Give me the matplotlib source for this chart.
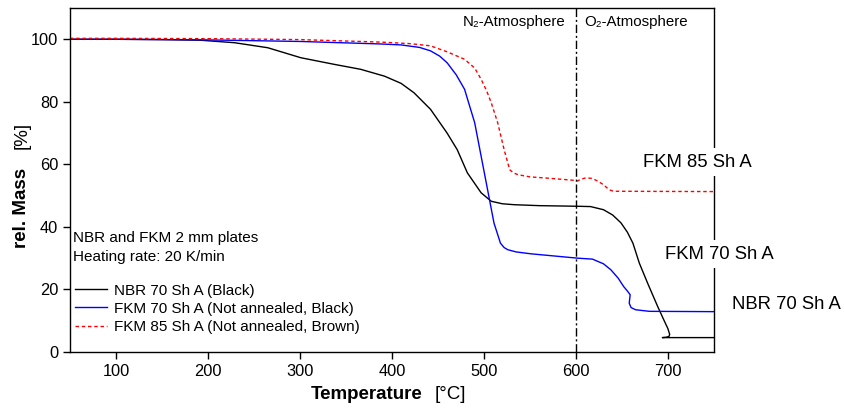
import matplotlib
matplotlib.use("Agg")
import matplotlib.pyplot as plt

plt.rcParams['font.family'] = ['Liberation Sans', 'DejaVu Sans']

# NBR 70 Sh A (Black)
nbr_T = [50, 100, 150, 192, 229, 265, 301, 337, 366, 392, 410, 424, 442, 460, 471, 482, 497, 508, 520, 533, 560,
         602, 616, 630, 640, 649, 656, 662, 669, 678, 689, 696, 700, 702, 701, 698, 694, 720, 750]
nbr_m = [100, 100, 99.9, 99.7, 98.9, 97.3, 94.1, 92.0, 90.4, 88.2, 85.9, 82.9, 77.6, 70.0, 64.7, 57.3, 50.9, 48.2, 47.4, 47.1, 46.8,
         46.6, 46.5, 45.5, 43.8, 41.3, 38.3, 34.8, 28.4, 22.0, 14.5, 10.0, 7.5, 5.6, 4.9, 4.7, 4.6, 4.6, 4.6]

# FKM 70 Sh A (Not annealed, Black)
fkm70_T = [50, 100, 200, 301, 388, 410, 430, 442, 452, 460, 470, 479, 490, 497, 504, 511, 518, 522, 526, 535, 551,
           602, 618, 630, 638, 646, 652, 656, 659, 658, 660, 665, 680, 750]
fkm70_m = [100, 100, 99.8, 99.3, 98.5, 98.2, 97.4, 96.3, 94.6, 92.5, 88.6, 84.0, 73.3, 62.6, 51.9, 41.2, 34.8, 33.4, 32.7, 32.0, 31.4,
           30.0, 29.7, 28.2, 26.3, 23.6, 20.9, 19.5, 18.3, 15.6, 14.2, 13.5, 13.0, 12.9]

# FKM 85 Sh A (Not annealed, Brown)
fkm85_T = [50, 100, 200, 300, 388, 420, 442, 460, 479, 490, 497, 503, 508, 515, 522, 528, 532, 537, 550, 569,
           598, 602, 605, 611, 618, 624, 630, 636, 641, 750]
fkm85_m = [100.3, 100.3, 100.2, 99.9, 99.1, 98.6, 97.9, 96.0, 93.6, 90.8, 87.2, 83.5, 79.7, 73.3, 64.7, 58.3, 57.3, 56.7, 56.0, 55.6,
           54.9, 54.7, 55.2, 55.7, 55.5, 54.6, 53.5, 51.9, 51.4, 51.3]

x_ticks = [100, 200, 300, 400, 500, 600, 700]
y_ticks = [0, 20, 40, 60, 80, 100]

fig = plt.figure(figsize=(8.45, 4.09), dpi=100)
ax = fig.add_axes([0.0828, 0.1394, 0.762, 0.841])

l1, = ax.plot(nbr_T, nbr_m, color='black', lw=1.0, label='NBR 70 Sh A (Black)')
l2, = ax.plot(fkm70_T, fkm70_m, color='#0000ff', lw=1.0, label='FKM 70 Sh A (Not annealed, Black)')
l3, = ax.plot(fkm85_T, fkm85_m, color='#ff0000', lw=1.0, ls=(0, (2.5, 2)), label='FKM 85 Sh A (Not annealed, Brown)')

ax.axvline(600, color='black', lw=1.0, ls=(0, (6, 2, 1.5, 2)))

ax.set_xlim(50, 750)
ax.set_ylim(0, 110)
ax.set_xticks(x_ticks)
ax.set_yticks(y_ticks)
ax.tick_params(direction='out', length=5, width=1, labelsize=11.8, colors='black')
for s in ax.spines.values():
    s.set_linewidth(1.0)

# axis labels (bold word + normal unit)
ax.text(0.547, -0.125, 'Temperature', transform=ax.transAxes, ha='right', va='center',
        fontsize=13.5, fontweight='bold')
ax.text(0.566, -0.125, '[°C]', transform=ax.transAxes, ha='left', va='center', fontsize=13.5)
ax.text(-0.075, 0.302, 'rel. Mass', transform=ax.transAxes, ha='center', va='bottom',
        fontsize=13.5, fontweight='bold', rotation=90)
ax.text(-0.075, 0.668, '[%]', transform=ax.transAxes, ha='center', va='top',
        fontsize=13.5, rotation=90)

ax.text(589, 105.5, 'N₂-Atmosphere', ha='right', va='center', fontsize=10.8)
ax.text(609.5, 105.5, 'O₂-Atmosphere', ha='left', va='center', fontsize=10.8)

ax.text(53.5, 36.6, 'NBR and FKM 2 mm plates', ha='left', va='center', fontsize=11)
ax.text(53.5, 30.4, 'Heating rate: 20 K/min', ha='left', va='center', fontsize=11)

leg = ax.legend(handles=[l1, l2, l3], loc='lower left', bbox_to_anchor=(0.0, 0.037), frameon=False,
                fontsize=11, handlelength=2.1, handletextpad=0.4, labelspacing=0.27, borderaxespad=0.15,
                borderpad=0.2)

bb = dict(facecolor='white', edgecolor='none', pad=4)
ax.text(672.8, 60.7, 'FKM 85 Sh A', ha='left', va='center', fontsize=13.3, bbox=bb, clip_on=False)
ax.text(696.7, 31.2, 'FKM 70 Sh A', ha='left', va='center', fontsize=13.3, bbox=bb, clip_on=False)
ax.text(770.0, 15.1, 'NBR 70 Sh A', ha='left', va='center', fontsize=13.3, bbox=bb, clip_on=False)

fig.savefig('out.png', dpi=100)
